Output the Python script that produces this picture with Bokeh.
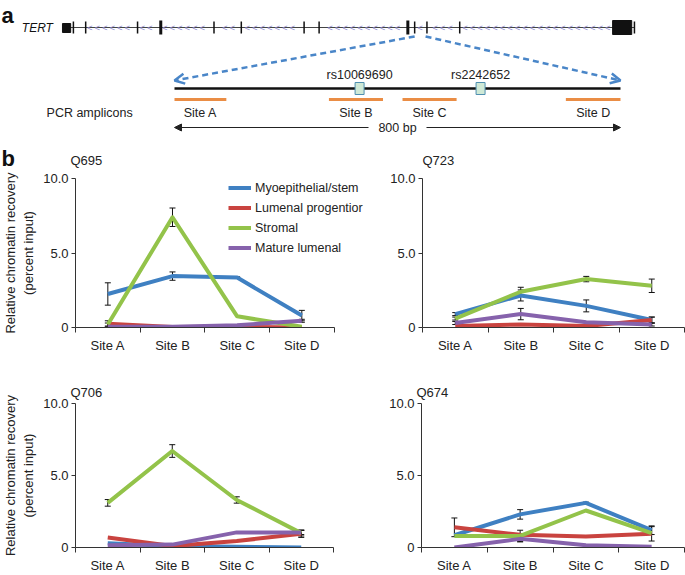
import numpy as np
from bokeh.plotting import figure
from bokeh.models import (Range1d, FixedTicker, LinearAxis, Legend, LegendItem, Whisker, TeeHead,
                          ColumnDataSource, Arrow, OpenHead, NormalHead)
from bokeh.layouts import column, row
from bokeh.embed import file_html
from bokeh.resources import INLINE
from bokeh.core.properties import value

FONT = "Liberation Sans"

# ---------------- data: panel a (gene schematic) ----------------
gene_length_kb = 41.9
exon_tick_kb = [0.8, 1.7, 5.5, 11.1, 13.1, 17.7, 18.8, 25.8, 26.7, 29.1, 41.9]
wide_exon_kb = [7.2, 25.3]
first_exon_kb = [0.0, 0.6]
last_exon_kb = [40.3, 41.7]
zoom_kb = [25.8, 26.6]          # where the enlarged region sits on the gene
region_bp = 800
snp_ids = ["rs10069690", "rs2242652"]
snp_bp = [332, 549]
amplicon_names = ["Site A", "Site B", "Site C", "Site D"]
amplicon_start_bp = [0, 277, 409, 702]
amplicon_end_bp = [93, 374, 506, 800]

# ---------------- data: panel b ----------------
sites = ["Site A", "Site B", "Site C", "Site D"]
cell_types = ["Myoepithelial/stem", "Lumenal progentior", "Stromal", "Mature lumenal"]
colors = ["#3f80c2", "#c9433f", "#93c34a", "#8662ac"]

q695_means = [[2.25, 3.45, 3.35, 0.80],
              [0.25, 0.03, 0.05, 0.00],
              [0.20, 7.40, 0.75, 0.05],
              [0.05, 0.05, 0.15, 0.45]]
q695_errs = [[0.75, 0.28, 0.05, 0.35],
             [0.20, 0.00, 0.00, 0.00],
             [0.10, 0.62, 0.00, 0.00],
             [0.00, 0.00, 0.00, 0.10]]

q723_means = [[0.90, 2.15, 1.45, 0.50],
              [0.10, 0.20, 0.10, 0.50],
              [0.60, 2.40, 3.25, 2.80],
              [0.30, 0.90, 0.35, 0.20]]
q723_errs = [[0.10, 0.37, 0.40, 0.20],
             [0.00, 0.00, 0.00, 0.20],
             [0.10, 0.30, 0.18, 0.45],
             [0.10, 0.38, 0.00, 0.10]]

q706_means = [[0.30, 0.10, 0.05, 0.00],
              [0.70, 0.10, 0.45, 0.95],
              [3.10, 6.70, 3.30, 1.00],
              [0.15, 0.20, 1.05, 1.05]]
q706_errs = [[0.00, 0.00, 0.00, 0.00],
             [0.00, 0.00, 0.00, 0.25],
             [0.23, 0.44, 0.22, 0.20],
             [0.00, 0.00, 0.00, 0.15]]

q674_means = [[0.85, 2.30, 3.10, 1.20],
              [1.40, 0.88, 0.77, 0.95],
              [0.80, 0.80, 2.57, 1.00],
              [0.00, 0.60, 0.15, 0.05]]
q674_errs = [[0.00, 0.33, 0.05, 0.30],
             [0.65, 0.00, 0.00, 0.50],
             [0.00, 0.40, 0.00, 0.00],
             [0.00, 0.20, 0.00, 0.00]]

y_ticks = [0, 5, 10]
y_tick_labels = ["0", "5.0", "10.0"]

AX = "#333333"
TXT = "#222222"

# layout constants (pixels)
W = 685
LEFT_W, RIGHT_W = 380, 305
TOP_H = 170           # panel a plus the heading band of panel b
ROW1_H, ROW2_H = 187, 218
L_BORDER_LEFT, R_BORDER_LEFT = 70, 42

# ---------------- panel a (+ heading band of panel b) ----------------
pa = figure(width=W, height=TOP_H, x_range=Range1d(-312.1, 916.6), y_range=Range1d(TOP_H, 0),
            x_axis_type=None, y_axis_type=None, output_backend="svg", toolbar_location=None,
            min_border=0)
pa.outline_line_color = None
pa.xgrid.visible = False
pa.ygrid.visible = False
pa.extra_x_ranges = {"gene": Range1d(-4.54, 45.64)}


def gene_to_bp(kb):
    g, b = pa.extra_x_ranges["gene"], pa.x_range
    f = (kb - g.start) / (g.end - g.start)
    return b.start + f * (b.end - b.start)


def px_to_bp(px):
    b = pa.x_range
    return b.start + px / W * (b.end - b.start)


GY = 27  # gene track row
pa.text(x=[-0.7], y=[GY], text=["TERT"], x_range_name="gene", text_align="right",
        text_baseline="middle", text_font=value(FONT), text_font_size="12px",
        text_font_style="italic", text_color="#111")
pa.segment(x0=[0], y0=[GY], x1=[gene_length_kb], y1=[GY], x_range_name="gene",
           line_color="#444", line_width=1.2)
chev = [c for c in np.arange(0.9, 40.1, 0.55)
        if min(abs(c - e) for e in exon_tick_kb + wide_exon_kb) > 0.3]
pa.text(x=chev, y=[GY] * len(chev), text=["<"] * len(chev), x_range_name="gene",
        text_align="center", text_baseline="middle", text_font=value(FONT),
        text_font_size="9px", text_color="#8f8dd0")
pa.segment(x0=exon_tick_kb, y0=[GY - 6] * len(exon_tick_kb), x1=exon_tick_kb,
           y1=[GY + 6] * len(exon_tick_kb), x_range_name="gene", line_color="#111", line_width=1.5)
pa.segment(x0=wide_exon_kb, y0=[GY - 7] * 2, x1=wide_exon_kb, y1=[GY + 7] * 2,
           x_range_name="gene", line_color="#111", line_width=3)
pa.quad(left=[first_exon_kb[0], last_exon_kb[0]], right=[first_exon_kb[1], last_exon_kb[1]],
        top=[GY - 4, GY - 7], bottom=[GY + 5, GY + 7], x_range_name="gene",
        fill_color="#111", line_color="#111")

# dashed zoom connectors
RY = 88
for kb, bp in zip(zoom_kb, [0, region_bp]):
    pa.add_layout(Arrow(x_start=gene_to_bp(kb), y_start=GY + 9, x_end=bp, y_end=RY - 8,
                        line_color="#4a86c8", line_width=2.5, line_dash="6 4",
                        end=OpenHead(size=10, line_color="#4a86c8", line_width=2.5)))

# enlarged region
pa.segment(x0=[0], y0=[RY], x1=[region_bp], y1=[RY], line_color="#111", line_width=2.5)
pa.rect(x=snp_bp, y=[RY] * len(snp_bp), width=9, height=12, width_units="screen",
        height_units="screen", fill_color="#cfe9d6", line_color="#4f8fb0", line_width=1)
pa.text(x=snp_bp, y=[RY - 14] * len(snp_bp), text=snp_ids, text_align="center",
        text_baseline="middle", text_font=value(FONT), text_font_size="12.5px", text_color=TXT)
pa.segment(x0=amplicon_start_bp, y0=[RY + 11] * 4, x1=amplicon_end_bp, y1=[RY + 11] * 4,
           line_color="#ea8d45", line_width=3)
amp_mid = [(a + b) / 2 for a, b in zip(amplicon_start_bp, amplicon_end_bp)]
pa.text(x=amp_mid, y=[RY + 24] * 4, text=amplicon_names, text_align="center",
        text_baseline="middle", text_font=value(FONT), text_font_size="12.5px", text_color=TXT)
pa.text(x=[-75], y=[RY + 24], text=["PCR amplicons"], text_align="right",
        text_baseline="middle", text_font=value(FONT), text_font_size="12.5px", text_color=TXT)
# 800 bp scale arrow: two halves leaving room for the label
half_gap = region_bp * 0.065
for end in [0, region_bp]:
    start = region_bp / 2 + (half_gap if end > region_bp / 2 else -half_gap)
    pa.add_layout(Arrow(x_start=start, y_start=RY + 39, x_end=end, y_end=RY + 39,
                        line_color=TXT, line_width=1.2,
                        end=NormalHead(size=7, fill_color=TXT, line_color=TXT)))
pa.text(x=[region_bp / 2], y=[RY + 39], text=[f"{region_bp} bp"], text_align="center",
        text_baseline="middle", text_font=value(FONT), text_font_size="12.5px", text_color=TXT)

# panel letters
pa.text(x=[px_to_bp(1), px_to_bp(1)], y=[15, 158], text=["a", "b"], text_align="left",
        text_baseline="middle", text_font=value(FONT), text_font_size="22px",
        text_font_style="bold", text_color="#111")
# headings of the two top charts of panel b (aligned with their y axes)
pa.text(x=[px_to_bp(L_BORDER_LEFT), px_to_bp(LEFT_W + R_BORDER_LEFT)], y=[160, 160],
        text=["Q695", "Q723"], text_align="left", text_baseline="middle",
        text_font=value(FONT), text_font_size="13px", text_color=TXT)


# ---------------- panel b ----------------
def make_chart(name, means, errs, width, height, bl, br, bt, bb, ylabel, title_standoff,
               frame_extra=1.0, legend=False):
    n = len(sites)
    p = figure(width=width, height=height, x_range=Range1d(0, n * frame_extra),
               y_range=Range1d(0, 10),
               x_axis_type=None, y_axis_type=None, output_backend="svg", toolbar_location=None,
               min_border_left=bl, min_border_right=br, min_border_top=bt, min_border_bottom=bb)
    p.outline_line_color = None
    p.xgrid.visible = False
    p.ygrid.visible = False
    xs = [i + 0.5 for i in range(n)]

    xa = LinearAxis(ticker=FixedTicker(ticks=xs, minor_ticks=list(range(n + 1))),
                    major_label_overrides={x: s for x, s in zip(xs, sites)}, bounds=(0, n))
    xa.major_tick_line_color = None
    xa.minor_tick_in = 0
    xa.minor_tick_out = 5
    xa.minor_tick_line_color = AX
    xa.axis_line_color = AX
    xa.major_label_standoff = 4
    xa.major_label_text_font = FONT
    xa.major_label_text_font_size = "13px"
    xa.major_label_text_color = TXT
    p.add_layout(xa, "below")

    ya = LinearAxis(ticker=FixedTicker(ticks=y_ticks, minor_ticks=[]),
                    major_label_overrides={t: l for t, l in zip(y_ticks, y_tick_labels)})
    ya.major_tick_in = 0
    ya.major_tick_out = 4
    ya.major_tick_line_color = AX
    ya.minor_tick_line_color = None
    ya.axis_line_color = AX
    ya.major_label_standoff = 3
    ya.major_label_text_font = FONT
    ya.major_label_text_font_size = "13px"
    ya.major_label_text_color = TXT
    if ylabel:
        ya.axis_label = ylabel
        ya.axis_label_text_font = FONT
        ya.axis_label_text_font_size = "13px"
        ya.axis_label_text_font_style = "normal"
        ya.axis_label_text_color = TXT
        ya.axis_label_standoff = 4
    p.add_layout(ya, "left")

    if name:
        p.title.text = name
        p.title.text_font = FONT
        p.title.text_font_size = "13px"
        p.title.text_font_style = "normal"
        p.title.text_color = TXT
        p.title.align = "left"
        p.title.standoff = title_standoff
        p.title.offset = -5

    renderers = []
    for m, c in zip(means, colors):
        renderers.append(p.line(xs, m, line_color=c, line_width=4, line_join="round"))
    for m, e in zip(means, errs):
        bx = [x for x, v in zip(xs, e) if v > 0]
        up = [mm + v for mm, v in zip(m, e) if v > 0]
        lo = [mm - v for mm, v in zip(m, e) if v > 0]
        if not bx:
            continue
        src = ColumnDataSource(dict(base=bx, upper=up, lower=lo))
        p.add_layout(Whisker(base="base", upper="upper", lower="lower", source=src,
                             line_color="#111", line_width=1,
                             upper_head=TeeHead(size=6, line_color="#111", line_width=1),
                             lower_head=TeeHead(size=6, line_color="#111", line_width=1)))
    if legend:
        lg = Legend(items=[LegendItem(label=t, renderers=[r]) for t, r in zip(cell_types, renderers)],
                    location=(153, 149 - 79), orientation="vertical")
        lg.border_line_color = None
        lg.background_fill_alpha = 0
        lg.padding = 0
        lg.margin = 0
        lg.spacing = 1
        lg.glyph_width = 23
        lg.glyph_height = 19
        lg.label_height = 19
        lg.label_standoff = 4
        lg.label_text_font = FONT
        lg.label_text_font_size = "12.5px"
        lg.label_text_color = TXT
        p.add_layout(lg, "center")
    return p


YL = "Relative chromatin recovery\n(percent input)"
# Q695's frame is widened to the right so that its legend is not clipped; the x axis keeps bounds 0..4
p1 = make_chart(None, q695_means, q695_errs, LEFT_W, ROW1_H, L_BORDER_LEFT, 8, 8, 30, YL, 0,
                frame_extra=302 / 263, legend=True)
p2 = make_chart(None, q723_means, q723_errs, RIGHT_W, ROW1_H, R_BORDER_LEFT, 1, 8, 30, None, 0)
p3 = make_chart("Q706", q706_means, q706_errs, LEFT_W, ROW2_H, L_BORDER_LEFT, 47, 46, 24, YL, 8)
p4 = make_chart("Q674", q674_means, q674_errs, RIGHT_W, ROW2_H, R_BORDER_LEFT - 1, 1, 46, 24, None, 8)

layout = column(pa, row(p1, p2), row(p3, p4))
open("out.html", "w").write(file_html(layout, INLINE))
